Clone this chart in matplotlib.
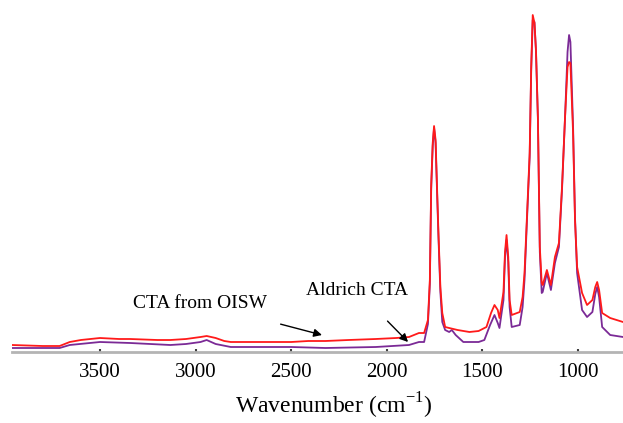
import matplotlib
matplotlib.use("Agg")
import matplotlib.pyplot as plt

plt.rcParams['font.family'] = ['Liberation Serif', 'DejaVu Serif']
plt.rcParams['mathtext.fontset'] = 'custom'
plt.rcParams['mathtext.rm'] = 'Liberation Serif'

# Espectros FTIR (absorbância em unidades arbitrárias)
wn_oisw = [3960, 3800, 3711, 3658, 3600, 3500, 3400, 3342, 3200, 3132, 3050,
           2974, 2942, 2895, 2850, 2816, 2658, 2500, 2411, 2321, 2200, 2058,
           1950, 1884, 1832, 1805, 1785, 1775, 1768, 1760, 1753, 1745, 1737,
           1730, 1720, 1710, 1695, 1674, 1630, 1568, 1520, 1479, 1455, 1437,
           1420, 1411, 1390, 1382, 1374, 1365, 1358, 1347, 1305, 1290, 1280,
           1268, 1253, 1245, 1237, 1228, 1220, 1210, 1200, 1190, 1185, 1163,
           1142, 1121, 1100, 1084, 1068, 1055, 1047, 1040, 1026, 1016, 1005,
           979, 953, 925, 910, 900, 890, 874, 832, 765]
abs_oisw = [7, 6, 6, 10, 12, 14, 13, 13, 12, 12, 13,
            15, 16, 14, 11, 10, 10, 10, 11, 11, 12, 13,
            14, 15, 19, 19, 32, 72, 167, 209, 226, 212, 162,
            119, 65, 39, 25, 24, 22, 20, 21, 25, 39, 47,
            42, 34, 60, 100, 117, 95, 52, 37, 40, 55, 79,
            132, 199, 285, 337, 329, 302, 235, 105, 69, 67, 82,
            67, 95, 109, 165, 235, 285, 290, 289, 219, 132, 85,
            59, 47, 52, 65, 70, 62, 39, 34, 30]

wn_aldrich = [3960, 3711, 3658, 3500, 3342, 3132, 3050, 2974, 2942, 2895,
              2816, 2500, 2321, 2058, 1884, 1832, 1805, 1785, 1775, 1768,
              1760, 1753, 1745, 1737, 1730, 1720, 1710, 1695, 1674, 1660,
              1640, 1600, 1568, 1520, 1490, 1460, 1437, 1420, 1411, 1390,
              1382, 1374, 1365, 1358, 1347, 1305, 1290, 1280, 1268, 1253,
              1245, 1237, 1228, 1220, 1210, 1200, 1190, 1185, 1163, 1142,
              1121, 1100, 1084, 1068, 1055, 1047, 1040, 1026, 1016, 1005,
              979, 953, 925, 910, 900, 890, 874, 832, 765]
abs_aldrich = [4, 4, 7, 10, 9, 7, 8, 10, 12, 8,
               5, 5, 4, 5, 7, 10, 10, 28, 68, 163,
               206, 224, 209, 158, 115, 60, 30, 22, 20, 22,
               17, 10, 10, 10, 12, 27, 37, 29, 24, 52,
               95, 112, 90, 45, 25, 27, 45, 72, 128, 195,
               282, 332, 330, 300, 233, 100, 59, 60, 79, 62,
               89, 105, 162, 235, 300, 317, 310, 225, 135, 79,
               42, 35, 40, 58, 65, 55, 25, 17, 15]

fig = plt.figure(figsize=(6.23, 4.23), dpi=100)
ax = fig.add_axes([12/623, 71/423, 611/623, 352/423])

ax.plot(wn_aldrich, abs_aldrich, color='#7b2a96', lw=1.3)
ax.plot(wn_oisw, abs_oisw, color='#ff1a1a', lw=1.3)

ax.set_xlim(3960, 765)
ax.set_ylim(0, 352)

ax.annotate('CTA from OISW', xy=(2339, 17), xytext=(2977, 49),
            ha='center', va='center', fontsize=14,
            arrowprops=dict(arrowstyle='-|>', color='black', lw=1,
                            mutation_scale=12, shrinkA=28, shrinkB=0))
ax.annotate('Aldrich CTA', xy=(1889, 10), xytext=(2156, 62),
            ha='center', va='center', fontsize=14,
            arrowprops=dict(arrowstyle='-|>', color='black', lw=1,
                            mutation_scale=12, shrinkA=20, shrinkB=0))

for s in ['top', 'left', 'right']:
    ax.spines[s].set_visible(False)
ax.spines['bottom'].set_color('#b4b4b4')
ax.spines['bottom'].set_linewidth(2)
ax.set_yticks([])
ax.set_xticks([3500, 3000, 2500, 2000, 1500, 1000])
ax.tick_params(axis='x', direction='in', length=2, width=1.5, color='#404040',
               labelsize=15, pad=8)
ax.set_xlabel('Wavenumber (cm$^{-1}$)', fontsize=17, labelpad=6)
ax.xaxis.label.set_x(0.527)

fig.savefig('out.png', dpi=100)
